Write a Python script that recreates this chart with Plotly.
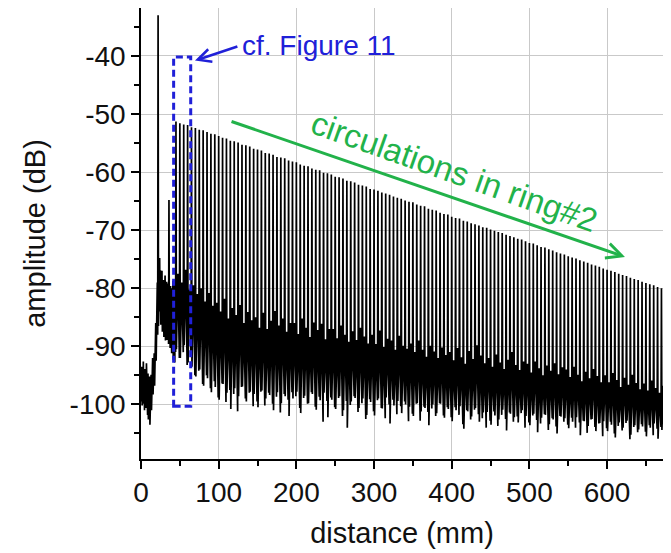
import plotly.graph_objects as go

# ---- data -------------------------------------------------------------
# noise / reflections before the ring comb (distance mm, amplitude dB)
pre_mm = [0.0, 0.5, 1.0, 1.5, 2.0, 2.5, 3.0, 3.5, 4.0, 4.5, 5.0, 5.5, 6.0, 6.5, 7.0, 7.5,
          8.0, 8.5, 9.0, 9.5, 10.0, 10.5, 11.0, 11.5, 12.0, 12.5, 13.0, 13.5, 14.0, 14.5,
          15.0, 15.5, 16.0, 16.5, 17.0, 17.5, 18.0, 18.5, 19.0, 19.5, 20.0, 20.5, 21.0, 21.5,
          22.0, 22.5, 23.0, 23.5, 24.0, 24.5, 25.0, 25.5, 26.0, 26.5, 27.0, 27.5, 28.0, 28.5,
          29.0, 29.5, 30.0, 30.5, 31.0, 31.5, 32.0, 32.5, 33.0, 33.5, 34.0, 34.5, 35.0, 35.5,
          36.0, 36.5, 37.0, 37.5, 38.0, 38.5, 39.0, 39.5, 40.0, 40.5, 41.0, 41.5, 42.0, 42.5,
          43.0, 43.5, 44.0, 44.5]
pre_db = [-96.0, -99.5, -93.5, -100.2, -94.8, -98.7, -92.6, -99.9, -95.1, -101.0, -93.9, -98.4,
          -94.3, -100.6, -92.9, -99.2, -95.6, -101.8, -94.7, -102.6, -96.0, -101.3, -95.2, -103.5,
          -96.8, -102.4, -94.9, -101.0, -93.1, -99.6, -92.0, -98.3, -93.6, -97.5, -91.2, -96.8,
          -88.5, -94.0, -86.0, -92.5, -82.4, -90.8, -79.0, -88.0, -33.0, -86.5, -77.5, -85.2,
          -74.8, -84.0, -76.9, -86.3, -78.2, -84.9, -77.0, -87.5, -79.4, -85.8, -78.6, -88.4,
          -79.9, -86.7, -77.8, -89.0, -80.3, -87.4, -78.9, -88.9, -80.8, -86.2, -79.2, -89.6,
          -64.8, -88.0, -80.5, -90.3, -79.6, -88.7, -81.4, -91.2, -80.0, -89.5, -78.7, -92.3,
          -80.9, -90.6, -79.3, -92.8, -81.2, -91.0]

# circulation peaks in ring #2
peak_mm = [45, 50, 55, 60, 65, 70, 75, 80, 85, 90,
           95, 100, 105, 110, 115, 120, 125, 130, 135, 140,
           145, 150, 155, 160, 165, 170, 175, 180, 185, 190,
           195, 200, 205, 210, 215, 220, 225, 230, 235, 240,
           245, 250, 255, 260, 265, 270, 275, 280, 285, 290,
           295, 300, 305, 310, 315, 320, 325, 330, 335, 340,
           345, 350, 355, 360, 365, 370, 375, 380, 385, 390,
           395, 400, 405, 410, 415, 420, 425, 430, 435, 440,
           445, 450, 455, 460, 465, 470, 475, 480, 485, 490,
           495, 500, 505, 510, 515, 520, 525, 530, 535, 540,
           545, 550, 555, 560, 565, 570, 575, 580, 585, 590,
           595, 600, 605, 610, 615, 620, 625, 630, 635, 640,
           645, 650, 655, 660, 665, 670]
peak_db = [-51.3, -51.6, -51.8, -51.9, -52.3, -52.4, -52.7, -52.8, -53.1, -53.4,
           -53.5, -53.8, -54.1, -54.2, -54.6, -54.7, -54.9, -55.3, -55.4, -55.6,
           -56.0, -56.1, -56.3, -56.7, -56.8, -57.0, -57.4, -57.5, -57.6, -58.0,
           -58.2, -58.3, -58.7, -58.9, -59.0, -59.4, -59.6, -59.7, -60.1, -60.2,
           -60.4, -60.8, -60.9, -61.1, -61.5, -61.6, -61.8, -62.2, -62.3, -62.5,
           -62.9, -63.0, -63.2, -63.5, -63.7, -63.9, -64.2, -64.4, -64.6, -64.9,
           -65.1, -65.2, -65.6, -65.8, -65.9, -66.3, -66.5, -66.6, -67.0, -67.2,
           -67.3, -67.7, -67.9, -68.0, -68.4, -68.5, -68.8, -69.0, -69.2, -69.5,
           -69.6, -69.9, -70.1, -70.3, -70.5, -70.8, -71.0, -71.2, -71.5, -71.6,
           -71.9, -72.2, -72.3, -72.6, -72.9, -73.0, -73.3, -73.5, -73.8, -74.0,
           -74.2, -74.5, -74.7, -74.9, -75.2, -75.4, -75.6, -75.9, -76.1, -76.3,
           -76.6, -76.8, -77.0, -77.2, -77.5, -77.7, -77.9, -78.2, -78.4, -78.6,
           -78.9, -79.1, -79.3, -79.5, -79.8, -80.0]

# noise floor between successive peaks: dip after peak, crest, dip before next peak
noise_lo1 = [-90.5, -92.0, -89.8, -92.8, -93.5, -95.2, -94.0, -96.8, -95.5, -97.9,
             -97.0, -99.2, -96.5, -98.0, -100.8, -97.2, -98.6, -96.9, -99.5, -97.8,
             -98.2, -100.5, -97.6, -99.0, -98.4, -101.0, -97.9, -99.8, -98.6, -102.0,
             -99.0, -97.8, -101.5, -98.5, -99.8, -98.2, -100.9, -99.3, -98.0, -102.2,
             -99.2, -100.8, -98.6, -101.0, -104.0, -99.5, -98.9, -100.6, -99.0, -101.8,
             -99.6, -101.9, -99.0, -100.7, -98.8, -103.3, -100.2, -99.4, -101.5, -100.0,
             -100.4, -102.0, -99.8, -101.2, -100.6, -103.6, -100.0, -101.5, -99.9, -102.3,
             -100.8, -102.9, -101.0, -100.3, -104.2, -101.2, -102.1, -100.6, -103.0, -101.4,
             -101.3, -103.5, -101.9, -102.6, -100.9, -104.5, -101.6, -102.2, -103.1, -101.0,
             -102.0, -103.6, -101.6, -104.8, -102.3, -101.8, -103.4, -102.6, -105.0, -102.1,
             -102.4, -104.1, -103.0, -102.2, -105.3, -102.9, -103.7, -102.5, -104.6, -103.2,
             -102.9, -104.6, -103.5, -105.7, -103.1, -104.0, -102.8, -105.2, -103.6, -104.3,
             -103.8, -105.5, -104.0, -103.3, -105.9, -104.4]
noise_hi = [-77.5, -79.0, -76.8, -80.2, -79.5, -81.0, -80.0, -82.3, -80.8, -83.0,
            -82.5, -84.0, -81.8, -85.2, -83.4, -84.6, -82.9, -86.0, -84.1, -85.5,
            -85.0, -86.8, -84.2, -87.0, -85.6, -83.9, -86.4, -85.2, -87.5, -86.0,
            -86.0, -87.9, -85.2, -86.8, -88.4, -85.9, -87.2, -86.1, -88.8, -87.0,
            -87.0, -88.6, -86.4, -88.0, -89.2, -87.4, -88.9, -86.8, -88.3, -89.5,
            -88.0, -89.6, -87.3, -90.1, -88.7, -89.0, -90.6, -88.2, -89.9, -90.4,
            -89.5, -91.0, -89.0, -90.6, -91.8, -89.9, -90.9, -92.0, -90.2, -91.5,
            -91.0, -92.4, -90.3, -91.9, -93.0, -90.8, -92.2, -89.8, -91.6, -92.9,
            -92.0, -93.5, -91.4, -92.8, -93.9, -92.3, -91.0, -93.2, -94.1, -92.6,
            -93.0, -94.5, -92.6, -93.8, -95.0, -93.3, -94.2, -92.9, -94.8, -93.6,
            -94.0, -95.3, -93.5, -94.9, -96.0, -94.4, -95.5, -93.9, -95.1, -96.2,
            -95.0, -96.2, -94.6, -95.8, -97.0, -95.4, -96.6, -94.9, -96.3, -97.4,
            -96.4, -97.6, -95.9, -97.2, -98.0, -96.8]
noise_lo2 = [-92.0, -91.0, -93.2, -91.8, -95.0, -94.2, -96.5, -95.0, -97.2, -96.0,
             -98.8, -96.4, -99.6, -97.5, -98.2, -101.2, -97.0, -99.0, -98.0, -100.3,
             -99.5, -97.8, -100.2, -98.0, -99.9, -98.7, -101.4, -98.2, -99.2, -97.9,
             -98.6, -100.6, -98.9, -99.9, -97.9, -100.4, -98.7, -103.0, -99.4, -98.8,
             -100.5, -98.9, -102.0, -99.4, -100.1, -98.6, -101.3, -99.8, -102.5, -99.1,
             -101.2, -99.3, -100.6, -102.4, -100.0, -99.2, -101.7, -100.3, -99.5, -102.9,
             -101.6, -99.9, -102.8, -100.4, -101.3, -100.7, -102.0, -99.8, -101.9, -100.5,
             -102.2, -100.5, -101.8, -103.4, -101.0, -102.6, -100.9, -101.7, -102.4, -104.0,
             -102.8, -101.2, -103.7, -101.8, -102.5, -101.4, -103.0, -102.1, -101.5, -104.0,
             -103.1, -101.9, -102.7, -103.3, -101.7, -104.4, -102.4, -103.8, -102.0, -103.0,
             -103.5, -102.3, -104.0, -103.1, -102.8, -104.9, -102.6, -103.9, -103.3, -105.5,
             -104.1, -103.0, -105.0, -103.7, -104.5, -103.2, -106.0, -103.9, -104.8, -103.4,
             -104.7, -103.6, -105.3, -104.2, -103.9, -105.0]

x_ticks = [0, 100, 200, 300, 400, 500, 600]
x_labels = ["0", "100", "200", "300", "400", "500", "600"]
y_ticks = [-100, -90, -80, -70, -60, -50, -40]
y_labels = ["-100", "-90", "-80", "-70", "-60", "-50", "-40"]

# ---- assemble the trace ------------------------------------------------
xs = list(pre_mm)
ys = list(pre_db)
for p, top, a, b, c in zip(peak_mm, peak_db, noise_lo1, noise_hi, noise_lo2):
    xs += [p, p + 0.6, p + 2.5, p + 4.4]
    ys += [top, a, b, c]

FONT = "Liberation Sans, Arial, Helvetica, sans-serif"
BLUE = "#2020d8"
GREEN = "#22b24a"

fig = go.Figure()
fig.add_trace(go.Scatter(x=xs, y=ys, mode="lines",
                         line=dict(color="black", width=1.7),
                         hoverinfo="skip", showlegend=False))

# dashed box around the start of the comb
fig.add_shape(type="rect", xref="x", yref="y", x0=42, x1=64, y0=-100.3, y1=-40.2,
              line=dict(color=BLUE, width=3, dash="7px,4px"), layer="above")

# blue arrow + label
fig.add_annotation(x=69.5, y=-40.8, ax=126.0, ay=-38.3, xref="x", yref="y",
                   axref="x", ayref="y", text="", showarrow=True, arrowhead=5,
                   arrowsize=1.0, arrowwidth=2.6, arrowcolor=BLUE)
fig.add_annotation(x=229.5, y=-38.2, xref="x", yref="y", text="cf. Figure 11",
                   showarrow=False, font=dict(family=FONT, size=28, color=BLUE))

# green arrow + rotated label
fig.add_annotation(x=623.0, y=-74.6, ax=114.6, ay=-51.2, xref="x", yref="y",
                   axref="x", ayref="y", text="", showarrow=True, arrowhead=5,
                   arrowsize=1.0, arrowwidth=3, arrowcolor=GREEN)
fig.add_annotation(x=403.0, y=-59.9, xref="x", yref="y", text="circulations in ring#2",
                   showarrow=False, textangle=19.5,
                   font=dict(family=FONT, size=33, color=GREEN))

axis_common = dict(showline=True, linecolor="black", linewidth=1.5, mirror=True,
                   ticks="outside", ticklen=8, tickwidth=1.5, tickcolor="black",
                   showgrid=True, gridcolor="#c9c9c9", gridwidth=1, zeroline=False,
                   automargin=False,
                   tickfont=dict(family=FONT, size=28, color="#111"))

fig.update_xaxes(range=[0, 672], tickvals=x_ticks, ticktext=x_labels,
                 minor=dict(dtick=50, tick0=0, ticks="outside", ticklen=5,
                            tickwidth=1.5, tickcolor="black", showgrid=False),
                 title=dict(text="distance (mm)", font=dict(family=FONT, size=29, color="#111")),
                 **axis_common)
fig.update_yaxes(range=[-109.4, -31.75], tickvals=y_ticks, ticktext=y_labels,
                 minor=dict(dtick=5, tick0=0, ticks="outside", ticklen=5,
                            tickwidth=1.5, tickcolor="black", showgrid=False),
                 title=dict(text="amplitude (dB)", font=dict(family=FONT, size=29, color="#111")),
                 **axis_common)

# the page adds an 8 px body margin, so the margins are reduced by that amount
fig.update_layout(width=671, height=553, margin=dict(l=133, r=16, t=0, b=102),
                  paper_bgcolor="white", plot_bgcolor="white", showlegend=False)

fig.write_html("out.html")
